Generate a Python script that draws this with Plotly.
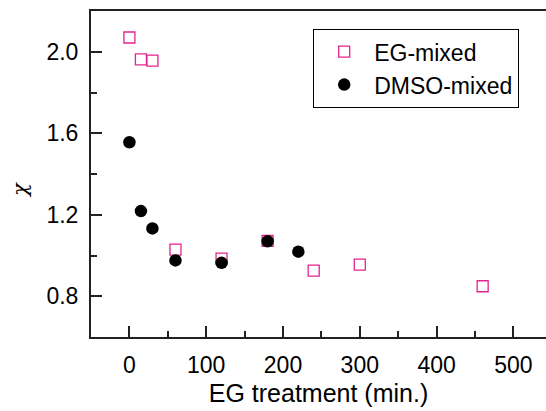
import plotly.graph_objects as go

eg_x = [0, 15, 30, 60, 120, 180, 240, 300, 460]
eg_y = [2.07, 1.963, 1.956, 1.029, 0.985, 1.072, 0.926, 0.955, 0.849]
dmso_x = [0, 15, 30, 60, 120, 180, 220]
dmso_y = [1.556, 1.218, 1.133, 0.976, 0.964, 1.07, 1.019]

x_tickvals = [0, 100, 200, 300, 400, 500]
y_tickvals = [0.8, 1.2, 1.6, 2.0]
y_ticktext = ["0.8", "1.2", "1.6", "2.0"]

FONT = "Liberation Sans, Arial, sans-serif"
PINK = "#E3238F"

fig = go.Figure()
fig.add_trace(go.Scatter(
    x=eg_x, y=eg_y, mode="markers", name="EG-mixed",
    marker=dict(symbol="square-open", size=11, color=PINK, line=dict(width=1.3, color=PINK)),
))
fig.add_trace(go.Scatter(
    x=dmso_x, y=dmso_y, mode="markers", name="DMSO-mixed",
    marker=dict(symbol="circle", size=12.5, color="black"),
))

fig.update_layout(
    width=546, height=411,
    margin=dict(l=91, r=0, t=11, b=74, autoexpand=False),
    paper_bgcolor="white", plot_bgcolor="white",
    font=dict(family=FONT, size=23, color="black"),
    showlegend=True,
    legend=dict(
        x=(313 - 91) / 455, y=(337 - 29) / 326,
        xanchor="left", yanchor="top",
        bordercolor="black", borderwidth=1.2, bgcolor="white",
        font=dict(family=FONT, size=23, color="black"),
        itemwidth=50, tracegroupgap=0,
    ),
    xaxis=dict(
        range=[-50, 542.5], tickvals=x_tickvals, ticks="inside", ticklen=11, tickwidth=1.5,
        tickcolor="#222", showline=True, linecolor="#222", linewidth=2, mirror=True,
        showgrid=False, zeroline=False, ticklabelstandoff=6, tickangle=0,
        minor=dict(dtick=50, tick0=0, ticks="inside", ticklen=6, tickwidth=1.5, tickcolor="#222", showgrid=False),
        title=dict(text="EG treatment (min.)", font=dict(size=25), standoff=8),
    ),
    yaxis=dict(
        range=[0.6, 2.2], tickvals=y_tickvals, ticktext=y_ticktext, ticks="inside", ticklen=11, tickwidth=1.5,
        tickcolor="#222", showline=True, linecolor="#222", linewidth=2, mirror=False,
        showgrid=False, zeroline=False, ticklabelstandoff=6,
        minor=dict(tickvals=[1.0, 1.4, 1.8], ticks="inside", ticklen=6, tickwidth=1.5, tickcolor="#222", showgrid=False),
    ),
)

fig.add_annotation(
    text="<i>χ</i>", xref="paper", yref="paper",
    x=(20 - 91) / 455, y=(337 - 190) / 326, showarrow=False, textangle=-90,
    font=dict(family="DejaVu Serif, serif", size=21, color="black"),
    xanchor="center", yanchor="middle",
)

fig.write_html("out.html")
